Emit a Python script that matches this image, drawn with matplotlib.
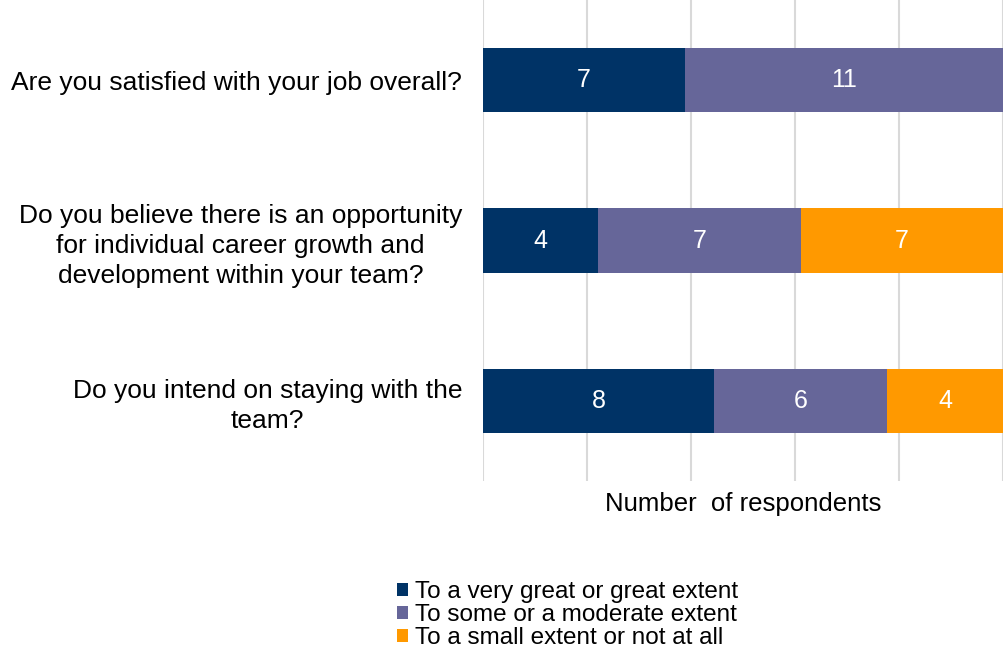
import numpy as np
import matplotlib
matplotlib.use('Agg')
import matplotlib.pyplot as plt

plt.rcParams['font.family'] = ['Liberation Sans', 'DejaVu Sans']

# Survey questions and response counts
questions = ['Are you satisfied with your job overall?',
             'Do you believe there is an opportunity\nfor individual career growth and\ndevelopment within your team?',
             'Do you intend on staying with the\nteam?']
great_extent = [7, 4, 8]
moderate_extent = [11, 7, 6]
small_extent = [0, 7, 4]

series_names = ['To a very great or great extent',
                'To some or a moderate extent',
                'To a small extent or not at all']
colors = ['#003366', '#666699', '#FF9900']

fig = plt.figure(figsize=(10.04, 6.51), dpi=100)
ax = fig.add_axes([0.481, 0.261, 0.518, 0.739])

y = np.arange(len(questions))
left = np.zeros(len(questions))
handles = []
for vals, name, col in zip([great_extent, moderate_extent, small_extent], series_names, colors):
    vals = np.array(vals, dtype=float)
    bars = ax.barh(y, vals, left=left, height=0.4, color=col, label=name, zorder=3)
    handles.append(bars)
    for i, v in enumerate(vals):
        if v > 0:
            ax.text(left[i] + v / 2, y[i], f'{int(v)}', ha='center', va='center',
                    color='white', fontsize=18, zorder=4)
    left += vals

ax.set_xlim(0, 18)
ax.set_ylim(2.5, -0.5)
ax.set_xticks(np.linspace(0, 18, 6))
ax.set_xticklabels([])
ax.grid(axis='x', color='#d9d9d9', linewidth=1.5, zorder=0)
ax.set_yticks(y)
ax.set_yticklabels(questions, fontsize=19, multialignment='center', linespacing=1.3)
ax.tick_params(axis='both', length=0)
ax.tick_params(axis='y', pad=15)
for s in ax.spines.values():
    s.set_visible(False)

ax.set_xlabel('Number  of respondents', fontsize=18.5, labelpad=4)

fig.legend(handles=handles, labels=series_names, loc='upper left',
           bbox_to_anchor=(0.395, 0.107), frameon=False, fontsize=17.5,
           handlelength=0.45, handleheight=0.45, handletextpad=0.3,
           labelspacing=0.03, borderpad=0, borderaxespad=0)

fig.savefig('out.png', dpi=100)
